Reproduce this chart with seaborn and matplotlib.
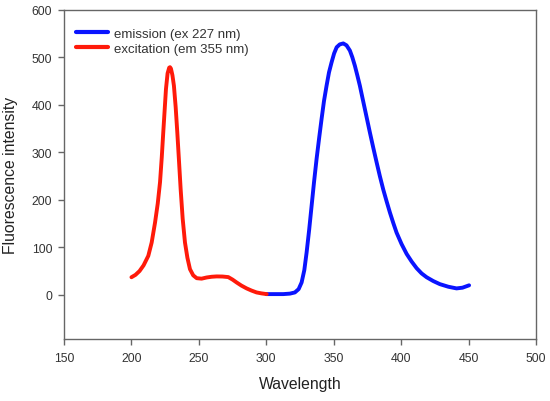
import matplotlib
matplotlib.use("Agg")
import matplotlib.pyplot as plt
import seaborn as sns
import pandas as pd

# Excitation spectrum (em 355 nm)
exc_wl = [200, 203, 206, 209, 212.5, 215, 217.5, 219.5, 221.2, 222.5, 223.6, 224.7, 225.6, 226.8,
          228.0, 228.6, 229.3, 230.4, 231.5, 232.8, 234.0, 235.3, 236.5, 238.0, 239.7, 241.5,
          243.4, 245.8, 248.4, 252.0, 255.8, 259.5, 263.2, 267.5, 271.8, 275.0, 278.0, 281.5,
          285.4, 289.0, 292.8, 296.5, 300.3]
exc_int = [37, 42, 50, 62, 82, 110, 152, 192, 237, 290, 342, 392, 433, 466,
           478, 479, 476, 462, 440, 395, 342, 280, 222, 160, 110, 78,
           54, 41, 35, 34, 36.5, 38, 38.7, 38.5, 37.3, 32, 26, 19.5,
           13.5, 9, 5, 3, 1.5]

# Emission spectrum (ex 227 nm)
emi_wl = [300, 306, 312.6, 317.5, 321.2, 324, 326.2, 328.2, 329.9, 331.8, 333.6, 335.4, 337.3,
          339.2, 341.0, 342.8, 344.7, 346.5, 348.4, 350.3, 352.2, 354.5, 357.1, 359.5, 362.0,
          363.8, 365.7, 367.5, 369.4, 371.2, 373.1, 376.8, 379.3, 381.8, 384.2, 386.7, 389.2,
          391.7, 394.2, 396.6, 400.3, 404.1, 407.8, 411.5, 415.2, 418.9, 423.8, 428.7, 435.0,
          441.1, 445.5, 450.4]
emi_int = [1.5, 1.5, 1.5, 2.5, 5, 12, 26, 52, 89, 137, 187, 237, 286,
           330, 370, 408, 440, 468, 489, 508, 521, 527, 529, 525, 514,
           500, 482, 462, 440, 416, 391, 342, 310, 279, 250, 222, 197,
           173, 151, 131, 107, 86, 70, 56, 45, 37, 29, 22.5, 17,
           13.5, 15, 20]

labels = ["emission (ex 227 nm)", "excitation (em 355 nm)"]
colors = ["#0a14ff", "#ff1a0a"]

df = pd.concat([
    pd.DataFrame({"Wavelength": emi_wl, "Intensity": emi_int, "series": labels[0]}),
    pd.DataFrame({"Wavelength": exc_wl, "Intensity": exc_int, "series": labels[1]}),
], ignore_index=True)

sns.set_theme(style="white")
plt.rcParams["font.family"] = ["Liberation Sans", "DejaVu Sans"]

fig = plt.figure(figsize=(5.5, 4.02), dpi=100)
ax = fig.add_axes([0.1164, 0.1542, 0.9745 - 0.1164, 0.9734 - 0.1542])

sns.lineplot(data=df, x="Wavelength", y="Intensity", hue="series",
             hue_order=labels, palette=colors, sort=False,
             linewidth=2.8, ax=ax, estimator=None)

ax.set_xlim(150, 500)
ax.set_ylim(-93, 600)
ax.set_xticks([150, 200, 250, 300, 350, 400, 450, 500])
ax.set_yticks([0, 100, 200, 300, 400, 500, 600])

axis_col = "#666666"
for sp in ax.spines.values():
    sp.set_color(axis_col)
    sp.set_linewidth(1.0)
ax.tick_params(axis="both", which="both", direction="out", length=4, width=1.0,
               color=axis_col, labelcolor="#333333", labelsize=8.8,
               bottom=True, left=True, top=False, right=False)
ax.tick_params(axis="x", pad=5)
ax.tick_params(axis="y", pad=4.5)

ax.set_xlabel("Wavelength", fontsize=11.3, color="#222222")
ax.set_ylabel("Fluorescence intensity", fontsize=11.3, color="#222222")
ax.xaxis.set_label_coords(0.5, -0.112)
ax.yaxis.set_label_coords(-0.098, 0.5)

leg = ax.legend(loc="upper left", bbox_to_anchor=(0.026, 0.945), frameon=False,
                fontsize=9.5, handlelength=2.4, handletextpad=0.45,
                borderaxespad=0, borderpad=0, labelspacing=0.2)
for line in leg.get_lines():
    line.set_linewidth(3.0)
for t in leg.get_texts():
    t.set_color("#333333")

fig.savefig("out.png", dpi=100)
